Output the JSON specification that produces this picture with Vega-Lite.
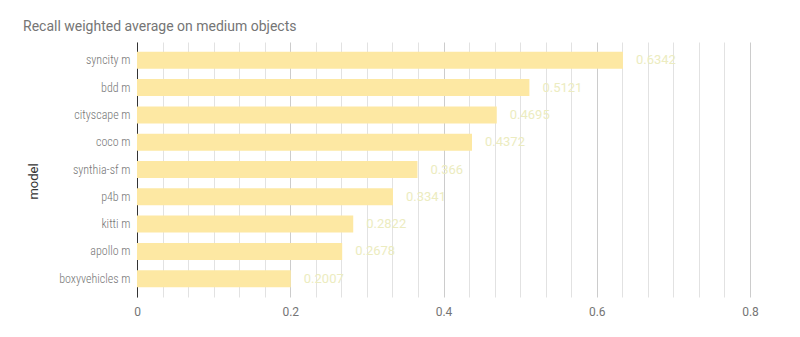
{
  "$schema": "https://vega.github.io/schema/vega-lite/v6.json",
  "autosize": {"type": "none"},
  "width": 613,
  "height": 255,
  "padding": {"left": 137, "top": 42, "right": 50, "bottom": 40},
  "background": "white",
  "title": {
    "text": "Recall weighted average on medium objects",
    "anchor": "start",
    "frame": "group",
    "dx": -114,
    "offset": 8,
    "font": "Roboto",
    "fontSize": 14,
    "fontWeight": "normal",
    "color": "#757575"
  },
  "config": {
    "view": {"stroke": null},
    "font": "Roboto"
  },
  "data": {
    "values": [
      {"model": "syncity m", "recall": 0.6342},
      {"model": "bdd m", "recall": 0.5121},
      {"model": "cityscape m", "recall": 0.4695},
      {"model": "coco m", "recall": 0.4372},
      {"model": "synthia-sf m", "recall": 0.366},
      {"model": "p4b m", "recall": 0.3341},
      {"model": "kitti m", "recall": 0.2822},
      {"model": "apollo m", "recall": 0.2678},
      {"model": "boxyvehicles m", "recall": 0.2007}
    ]
  },
  "encoding": {
    "y": {
      "field": "model",
      "type": "nominal",
      "sort": null,
      "scale": {"paddingInner": 0.377, "paddingOuter": 0.36},
      "axis": {
        "title": "model",
        "titleFont": "Roboto",
        "titleFontSize": 13,
        "titleFontWeight": "normal",
        "titleColor": "#333333",
        "titleX": -104,
        "titleY": 139,
        "titleAngle": -90,
        "titleAlign": "center",
        "titleBaseline": "middle",
        "labelFont": "'Roboto Condensed', 'Liberation Sans Narrow', Roboto",
        "labelFontSize": 12,
        "labelFontWeight": 300,
        "labelColor": "#757575",
        "labelPadding": 7,
        "ticks": false,
        "domain": true,
        "domainColor": "#333333",
        "domainWidth": 1,
        "grid": false
      }
    }
  },
  "layer": [
    {
      "mark": {"type": "bar", "color": "#fde8a3"},
      "encoding": {
        "x": {
          "field": "recall",
          "type": "quantitative",
          "scale": {"domain": [0, 0.8], "nice": false},
          "axis": {
            "title": null,
            "tickCount": 100,
            "values": [0, 0.033333, 0.066667, 0.1, 0.133333, 0.166667, 0.2, 0.233333, 0.266667, 0.3, 0.333333, 0.366667, 0.4, 0.433333, 0.466667, 0.5, 0.533333, 0.566667, 0.6, 0.633333, 0.666667, 0.7, 0.733333, 0.766667, 0.8],
            "labelExpr": "abs(datum.value * 5 - round(datum.value * 5)) < 0.001 ? format(datum.value, '.1~f') : ''",
            "labelFont": "Roboto",
            "labelFontSize": 12,
            "labelColor": "#757575",
            "labelPadding": 9,
            "labelFlush": false,
            "labelOverlap": false,
            "ticks": false,
            "domain": false,
            "grid": true,
            "gridColor": {
              "condition": {"test": "abs(datum.value * 5 - round(datum.value * 5)) < 0.001", "value": "#cccccc"},
              "value": "#e2e2e2"
            },
            "gridWidth": 1
          }
        }
      }
    },
    {
      "mark": {"type": "text", "align": "left", "baseline": "middle", "dx": 13, "font": "Roboto", "fontSize": 13, "color": "#ececc0"},
      "encoding": {
        "x": {"field": "recall", "type": "quantitative"},
        "text": {"field": "recall", "type": "quantitative"}
      }
    }
  ]
}
